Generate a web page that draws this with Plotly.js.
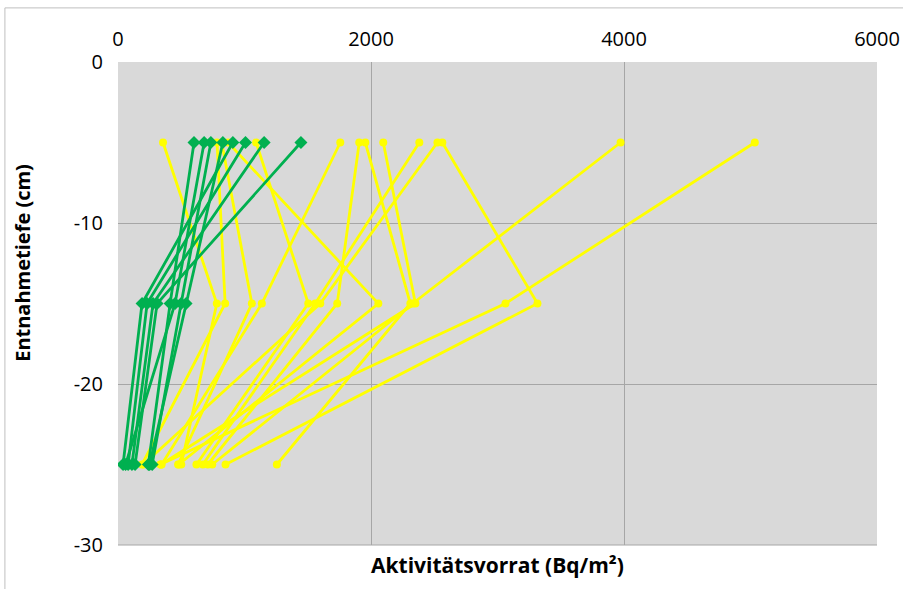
<!DOCTYPE html>
<html>
<head>
<meta charset="utf-8">
<script src="https://cdn.plot.ly/plotly-3.0.1.min.js"></script>
<style>
  html, body { margin: 0; padding: 0; background: #ffffff; }
  #chart { width: 903px; height: 589px; }
</style>
</head>
<body>
<div id="chart"></div>
<script>
// Sampling depths (cm) of the three soil layers
const depths = [-5, -15, -25];

// Green profiles: activity inventory (Bq/m²) per layer, one entry per profile
const greenTop    = [601, 681, 734, 829, 908, 1008, 1155, 1446];
const greenMid    = [412, 451, 499, 538, 190, 230, 277, 309];
const greenBottom = [240, 60, 270, 250, 40, 80, 110, 135];

// Yellow profiles: activity inventory (Bq/m²) per layer, one entry per profile
const yellowTop    = [356, 783, 820, 870, 1092, 1757, 1907, 1955, 2097, 2382, 2525, 2564, 3973, 5034];
const yellowMid    = [781, 847, 1058, 2058, 1504, 1137, 1733, 2311, 2351, 1559, 1599, 3316, 2330, 3063];
const yellowBottom = [500, 190, 475, 480, 620, 345, 710, 1256, 340, 670, 200, 850, 745, 335];

// Axis ticks
const xTicks = [0, 2000, 4000, 6000];
const yTicks = [0, -10, -20, -30];

const GREEN = '#00b050';
const YELLOW = '#ffff00';

function profileTraces(tops, mids, bottoms, color, symbol, size) {
  return tops.map((t, i) => ({
    type: 'scatter',
    mode: 'lines+markers',
    x: [t, mids[i], bottoms[i]],
    y: depths,
    line: { color: color, width: 2.8 },
    marker: { color: color, symbol: symbol, size: size },
    hoverinfo: 'x+y',
    showlegend: false
  }));
}

const traces = [
  ...profileTraces(yellowTop, yellowMid, yellowBottom, YELLOW, 'circle', 8),
  ...profileTraces(greenTop, greenMid, greenBottom, GREEN, 'diamond', 10)
];

const FAMILY = 'Open Sans, Noto Sans, sans-serif';
const tickFont = { family: FAMILY, size: 20, color: '#000000' };
const titleFont = { family: FAMILY, size: 21, color: '#000000', weight: 'bold' };
const yTitleFont = { family: FAMILY, size: 20, color: '#000000', weight: 'bold' };

const layout = {
  width: 903,
  height: 589,
  margin: { l: 118, r: 26, t: 62, b: 44 },
  paper_bgcolor: '#ffffff',
  plot_bgcolor: '#d9d9d9',
  showlegend: false,
  xaxis: {
    side: 'top',
    range: [0, 6000],
    tickvals: xTicks,
    ticktext: xTicks.map(String),
    showgrid: true,
    gridcolor: '#a6a6a6',
    gridwidth: 1,
    zeroline: false,
    showline: false,
    ticks: '',
    ticklabelstandoff: 11,
    tickfont: tickFont,
    title: { text: '' }
  },
  yaxis: {
    range: [-30, 0],
    tickvals: yTicks,
    ticktext: yTicks.map(String),
    showgrid: true,
    gridcolor: '#a6a6a6',
    gridwidth: 1,
    zeroline: false,
    showline: false,
    ticks: '',
    ticklabelstandoff: 14,
    tickfont: tickFont,
    title: { text: '' }
  },
  annotations: [
    {
      text: 'Aktivitätsvorrat (Bq/m²)',
      xref: 'paper', yref: 'paper',
      x: 0.5, y: -0.042,
      xanchor: 'center', yanchor: 'middle',
      showarrow: false,
      font: titleFont
    },
    {
      text: 'Entnahmetiefe (cm)',
      xref: 'paper', yref: 'paper',
      x: -0.126, y: 0.585,
      xanchor: 'center', yanchor: 'middle',
      textangle: -90,
      showarrow: false,
      font: yTitleFont
    }
  ],
  shapes: [
    {
      // outer chart frame
      type: 'path',
      xref: 'paper', yref: 'paper',
      path: 'M -0.149 -0.2 L -0.149 1.112 L 1.2 1.112',
      line: { color: '#bfbfbf', width: 1 }
    },
    {
      type: 'line',
      xref: 'paper', yref: 'paper',
      x0: 0, x1: 1, y0: 0, y1: 0,
      line: { color: '#a6a6a6', width: 1 }
    }
  ]
};

Plotly.newPlot('chart', traces, layout, { staticPlot: true, displayModeBar: false });
</script>
</body>
</html>
